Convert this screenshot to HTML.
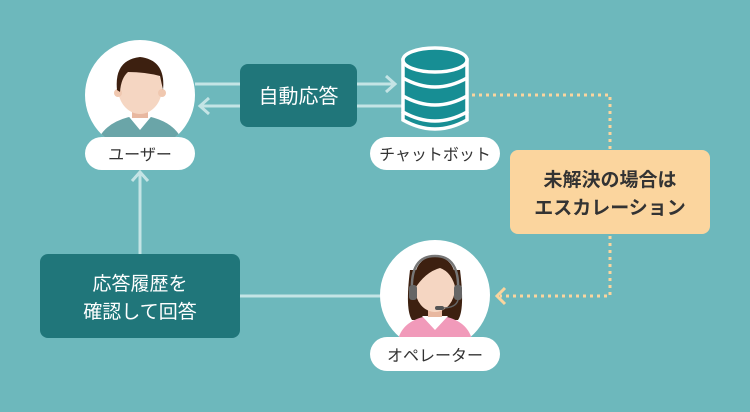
<!DOCTYPE html>
<html><head><meta charset="utf-8"><style>
body{margin:0;width:750px;height:412px;background:#6db8bc;overflow:hidden;font-family:"Liberation Sans","Noto Sans CJK JP",sans-serif;}
svg{position:absolute;left:0;top:0}
.t{font-family:"Liberation Sans","Noto Sans CJK JP",sans-serif}
</style></head><body>
<svg width="750" height="412" viewBox="0 0 750 412">
<defs>
<clipPath id="c1"><circle cx="140" cy="95" r="55"/></clipPath>
<clipPath id="c2"><circle cx="435" cy="295" r="55"/></clipPath>
</defs>
<g stroke="#c4e4e5" stroke-width="3" fill="none">
<line x1="195" y1="84" x2="240" y2="84"/>
<line x1="357" y1="84" x2="395" y2="84"/>
<polyline points="386,76 395,84 386,92"/>
<line x1="200" y1="106" x2="240" y2="106"/>
<polyline points="209,98 200,106 209,114"/>
<line x1="357" y1="106" x2="402" y2="106"/>
<line x1="240" y1="296" x2="382" y2="296"/>
<line x1="140" y1="254" x2="140" y2="172"/>
<polyline points="132,181 140,172 148,181"/>
</g>
<g stroke="#fbd59e" stroke-width="3" fill="none" stroke-dasharray="3,4">
<polyline points="472,95 610,95 610,150"/>
<polyline points="610,236 610,296 500,296"/>
</g>
<polyline points="505,288 497,296 505,304" stroke="#fbd59e" stroke-width="3" fill="none"/>
<!-- user -->
<circle cx="140" cy="95" r="55" fill="#fff"/>
<g clip-path="url(#c1)">
<path d="M95 150 Q100 120 140 115 Q180 120 185 150Z" fill="#6aa5a8"/>
<path d="M125 112 L140 130 L155 112Z" fill="#fff"/>
<rect x="132" y="104" width="16" height="14" fill="#e8b8a0"/>
<ellipse cx="140" cy="88" rx="22" ry="26" fill="#f5d6c2"/>
<circle cx="118" cy="93" r="4" fill="#f0c8b0"/><circle cx="162" cy="93" r="4" fill="#f0c8b0"/>
<path d="M117 90 Q114 60 140 57 Q166 60 163 90 L160 76 Q145 72 128 72 Q121 78 120 92Z" fill="#3d2010"/>
</g>
<rect x="85" y="137" width="110" height="33" rx="16.5" fill="#fff"/>
<text x="140" y="160" text-anchor="middle" font-size="16" fill="#333" class="t">ユーザー</text>
<!-- auto box -->
<rect x="240" y="64" width="117" height="63" rx="8" fill="#20767a"/>
<text x="298.5" y="103" text-anchor="middle" font-size="20" fill="#fff" class="t">自動応答</text>
<!-- database -->
<g fill="#178e94" stroke="#fff" stroke-width="3.5">
<path d="M403 112 L403 120 Q435 138 467 120 L467 112"/>
<path d="M403 60 L403 112 Q435 130 467 112 L467 60Z"/>
<ellipse cx="435" cy="60" rx="32" ry="12"/>
<path d="M403 78 Q435 96 467 78" fill="none"/>
<path d="M403 96 Q435 114 467 96" fill="none"/>
</g>
<rect x="370" y="137" width="130" height="33" rx="16.5" fill="#fff"/>
<text x="435" y="160" text-anchor="middle" font-size="16" fill="#333" class="t">チャットボット</text>
<!-- orange -->
<rect x="510" y="150" width="200" height="84" rx="8" fill="#fbd59e"/>
<text x="610" y="186" text-anchor="middle" font-size="19" font-weight="bold" fill="#333" class="t">未解決の場合は</text>
<text x="610" y="214" text-anchor="middle" font-size="19" font-weight="bold" fill="#333" class="t">エスカレーション</text>
<!-- history box -->
<rect x="40" y="254" width="200" height="84" rx="8" fill="#20767a"/>
<text x="140" y="290" text-anchor="middle" font-size="19" fill="#fff" class="t">応答履歴を</text>
<text x="140" y="318" text-anchor="middle" font-size="19" fill="#fff" class="t">確認して回答</text>
<!-- operator -->
<circle cx="435" cy="295" r="55" fill="#fff"/>
<g clip-path="url(#c2)">
<path d="M410 270 Q405 310 412 320 L458 320 Q465 310 460 270Z" fill="#3d2010"/>
<path d="M397 345 Q400 318 435 315 Q470 318 473 345Z" fill="#f19aba"/>
<path d="M422 316 L435 330 L448 316Z" fill="#fff"/>
<rect x="428" y="303" width="14" height="14" fill="#e8b8a0"/>
<ellipse cx="435" cy="288" rx="20" ry="24" fill="#f5d6c2"/>
<path d="M414 290 Q412 258 435 256 Q458 258 456 290 Q452 272 440 268 Q425 272 414 290Z" fill="#3d2010"/>
<path d="M412 292 Q410 256 435 256 Q460 256 458 292" fill="none" stroke="#777" stroke-width="2.5"/>
<rect x="409" y="285" width="8" height="15" rx="3" fill="#666"/>
<rect x="454" y="285" width="8" height="15" rx="3" fill="#666"/>
<path d="M458 300 Q456 308 442 308" fill="none" stroke="#666" stroke-width="1.5"/>
<rect x="435" y="306" width="9" height="4" rx="2" fill="#555"/>
</g>
<rect x="370" y="337" width="130" height="34" rx="17" fill="#fff"/>
<text x="435" y="361" text-anchor="middle" font-size="16" fill="#333" class="t">オペレーター</text>
</svg>
</body></html>
